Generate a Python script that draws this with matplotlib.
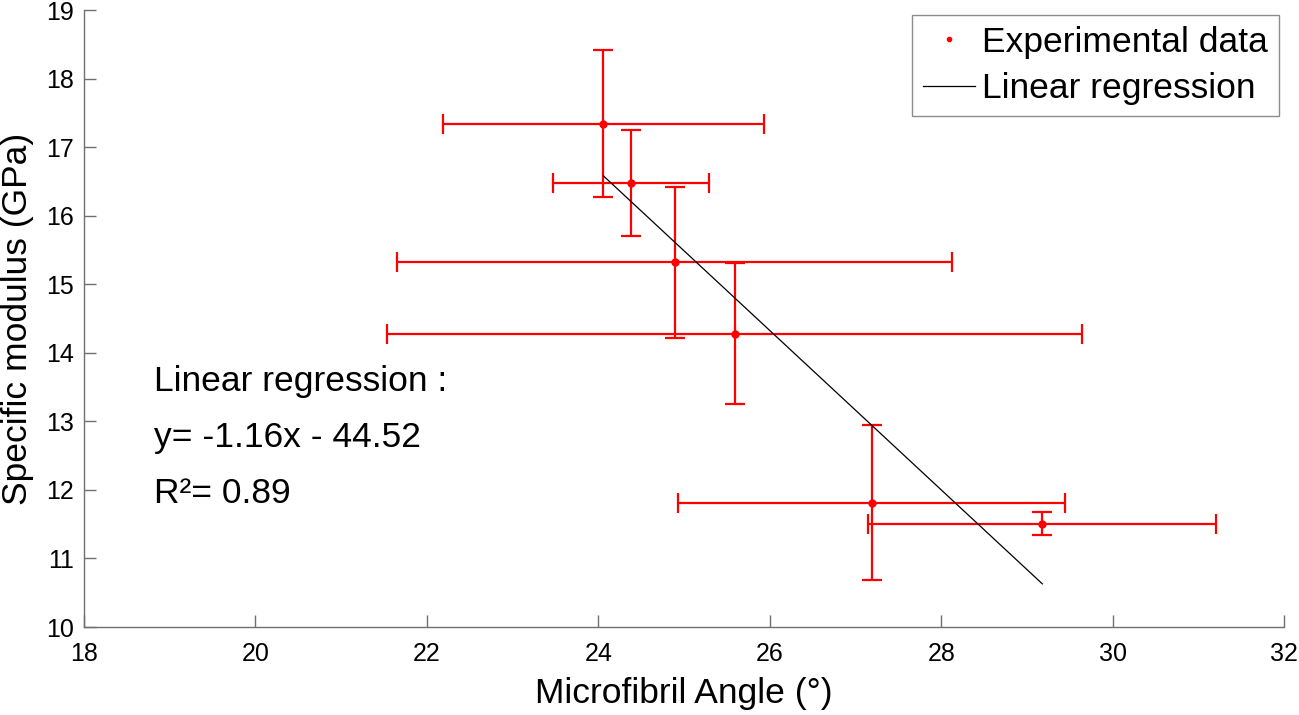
import matplotlib
matplotlib.use("Agg")
import matplotlib.pyplot as plt
from matplotlib.lines import Line2D

plt.rcParams['font.family'] = ['Liberation Sans', 'DejaVu Sans']

# Data
mfa = [24.06, 24.38, 24.89, 25.59, 27.19, 29.18]
mfa_err = [1.87, 0.91, 3.24, 4.05, 2.26, 2.03]
modulus = [17.34, 16.48, 15.32, 14.28, 11.81, 11.51]
modulus_err = [1.07, 0.77, 1.10, 1.03, 1.13, 0.17]

reg_x = [24.06, 29.18]
reg_y = [16.58, 10.63]

annot_lines = ["Linear regression :", "y= -1.16x - 44.52", "R²= 0.89"]
annot_y = [13.58, 12.76, 11.95]

fig = plt.figure(figsize=(12.99, 7.15), dpi=100)
ax = fig.add_axes([0.0647, 0.123, 0.9238, 0.863])

ax.errorbar(mfa, modulus, xerr=mfa_err, yerr=modulus_err, fmt='none',
            ecolor='red', elinewidth=1.6, capsize=7, capthick=1.6, zorder=2)
ax.plot(mfa, modulus, linestyle='none', marker='o', markersize=5,
        color='red', label='Experimental data', zorder=3)
ax.plot(reg_x, reg_y, color='black', linewidth=0.9, label='Linear regression', zorder=4)

ax.set_xlim(18, 32)
ax.set_ylim(10, 19)
ax.set_xticks(range(18, 33, 2))
ax.set_yticks(range(10, 20, 1))
ax.tick_params(direction='in', length=8.5, width=1, colors='#707070',
               labelcolor='black', labelsize=18)
ax.tick_params(axis='x', pad=11)
ax.tick_params(axis='y', pad=7)
for s in ['top', 'right']:
    ax.spines[s].set_visible(False)
for s in ['left', 'bottom']:
    ax.spines[s].set_color('#707070')
    ax.spines[s].set_linewidth(1)

ax.set_xlabel('Microfibril Angle (°)', fontsize=25.5, labelpad=8)
ax.set_ylabel('Specific modulus (GPa)', fontsize=25.5, labelpad=9)

for t, yy in zip(annot_lines, annot_y):
    ax.text(18.82, yy, t, fontsize=25.5, va='center', ha='left')

h, l = ax.get_legend_handles_labels()
h[0] = Line2D([], [], linestyle='none', marker='o', markersize=3, color='red')
leg = ax.legend(h, l, loc='upper right', bbox_to_anchor=(0.9955, 0.992), fontsize=25.5,
                frameon=True, fancybox=False, edgecolor='#707070',
                handlelength=1.47, handletextpad=0.2, borderpad=0.3, labelspacing=0.38,
                borderaxespad=0)
leg.get_frame().set_linewidth(1)

fig.savefig('out.png', dpi=100)
